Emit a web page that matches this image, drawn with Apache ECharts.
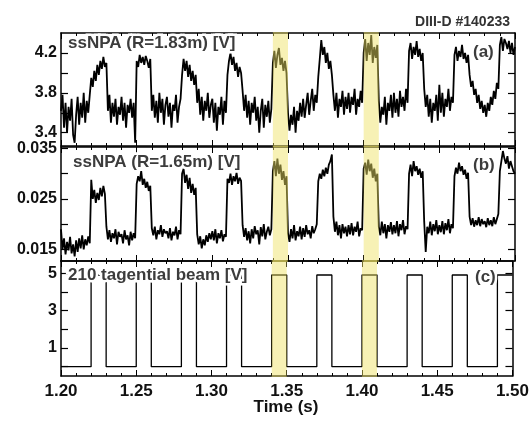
<!DOCTYPE html>
<html><head><meta charset="utf-8">
<script src="https://cdn.jsdelivr.net/npm/echarts@6/dist/echarts.min.js"></script>
<style>html,body{margin:0;padding:0;background:#fff}#c{width:532px;height:422px}</style>
</head><body><div id="c"></div>
<script>
// time sampling of the NPA traces (s)
const tStart = 1.200, tStep = 0.001;
// ssNPA R=1.83m [V], one value per ms from 1.200 to 1.500
const npaA = [
3.62,3.78,3.45,3.70,3.40,3.66,3.52,3.74,3.38,3.30,
3.58,3.76,3.48,3.70,3.55,3.80,3.50,3.72,3.60,3.78,
3.95,3.86,4.02,3.92,4.08,3.98,4.12,4.04,4.16,4.06,
4.10,3.62,3.78,3.50,3.70,3.56,3.74,3.48,3.66,3.58,
3.76,3.52,3.70,3.45,3.68,3.60,3.74,3.55,3.70,3.30,
4.12,4.06,4.18,4.10,4.16,4.08,4.17,4.12,4.05,4.14,
3.62,3.78,3.55,3.72,3.50,3.80,3.60,3.74,3.48,3.68,
3.76,3.56,3.70,3.45,3.68,3.62,3.78,3.50,3.66,3.74,
3.98,4.14,4.02,4.12,3.96,4.08,3.92,4.02,3.88,3.98,
3.70,3.84,3.58,3.76,3.52,3.72,3.62,3.80,3.55,3.68,
3.74,3.50,3.70,3.42,3.66,3.58,3.76,3.48,3.72,3.60,
3.98,4.12,4.20,4.08,4.16,4.02,4.10,3.96,4.06,4.00,
3.82,3.62,3.78,3.55,3.72,3.48,3.70,3.60,3.76,3.52,
3.66,3.40,3.62,3.74,3.45,3.68,3.56,3.72,3.50,3.64,
4.10,4.22,4.05,4.18,4.25,4.08,4.15,4.02,4.12,4.00,
3.60,3.42,3.58,3.48,3.66,3.40,3.62,3.52,3.70,3.56,
3.74,3.55,3.68,3.80,3.58,3.72,3.84,3.62,3.78,3.70,
3.96,4.14,4.33,4.18,4.26,4.10,4.20,4.04,4.12,3.98,
3.78,3.62,3.80,3.55,3.74,3.66,3.82,3.58,3.76,3.64,
3.80,3.60,3.76,3.68,3.84,3.58,3.74,3.66,3.82,3.70,
4.20,4.34,4.12,4.30,4.18,4.38,4.10,4.26,4.15,4.28,
3.72,3.50,3.66,3.58,3.76,3.48,3.70,3.62,3.78,3.55,
3.80,3.60,3.74,3.56,3.82,3.66,3.76,3.62,3.84,3.70,
4.22,4.30,4.14,4.26,4.18,4.32,4.16,4.24,4.12,4.20,
3.84,3.66,3.78,3.56,3.74,3.50,3.70,3.62,3.78,3.52,
3.88,3.60,3.80,3.56,3.74,3.66,3.84,3.62,3.76,3.70,
4.18,4.26,4.12,4.22,4.16,4.28,4.14,4.20,4.10,4.18,
3.98,3.86,3.92,3.78,3.84,3.70,3.78,3.64,3.72,3.60,
3.68,3.56,3.70,3.62,3.76,3.68,3.82,3.74,3.90,3.84,
4.28,4.36,4.22,4.34,4.30,4.24,4.32,4.20,4.30,4.18,4.26
];
// ssNPA R=1.65m [V]
const npaB = [
0.0190,0.0150,0.0172,0.0140,0.0165,0.0148,0.0175,0.0142,0.0160,0.0136,
0.0168,0.0145,0.0172,0.0152,0.0178,0.0150,0.0170,0.0158,0.0176,0.0162,
0.0288,0.0250,0.0268,0.0242,0.0262,0.0248,0.0272,0.0255,0.0276,0.0260,
0.0195,0.0170,0.0188,0.0165,0.0182,0.0172,0.0190,0.0160,0.0185,0.0175,
0.0180,0.0162,0.0188,0.0170,0.0178,0.0158,0.0185,0.0168,0.0182,0.0172,
0.0280,0.0295,0.0285,0.0305,0.0278,0.0290,0.0272,0.0284,0.0266,0.0276,
0.0192,0.0178,0.0195,0.0170,0.0188,0.0180,0.0198,0.0175,0.0190,0.0182,
0.0186,0.0172,0.0192,0.0168,0.0185,0.0178,0.0195,0.0170,0.0188,0.0180,
0.0300,0.0310,0.0282,0.0298,0.0270,0.0292,0.0262,0.0280,0.0258,0.0272,
0.0180,0.0160,0.0176,0.0152,0.0170,0.0158,0.0178,0.0165,0.0182,0.0170,
0.0186,0.0168,0.0190,0.0162,0.0182,0.0172,0.0188,0.0166,0.0180,0.0175,
0.0290,0.0282,0.0300,0.0278,0.0295,0.0285,0.0302,0.0280,0.0292,0.0286,
0.0198,0.0175,0.0192,0.0168,0.0186,0.0162,0.0190,0.0172,0.0196,0.0180,
0.0188,0.0160,0.0194,0.0176,0.0200,0.0170,0.0185,0.0195,0.0178,0.0190,
0.0305,0.0325,0.0295,0.0330,0.0300,0.0318,0.0288,0.0305,0.0278,0.0295,
0.0182,0.0165,0.0190,0.0172,0.0198,0.0168,0.0186,0.0176,0.0195,0.0170,
0.0192,0.0175,0.0198,0.0180,0.0188,0.0172,0.0196,0.0182,0.0190,0.0200,
0.0285,0.0300,0.0290,0.0308,0.0295,0.0312,0.0300,0.0318,0.0325,0.0338,
0.0215,0.0185,0.0205,0.0178,0.0198,0.0172,0.0200,0.0182,0.0195,0.0176,
0.0198,0.0180,0.0202,0.0178,0.0195,0.0185,0.0205,0.0176,0.0192,0.0188,
0.0310,0.0322,0.0298,0.0328,0.0305,0.0320,0.0292,0.0310,0.0285,0.0300,
0.0195,0.0178,0.0205,0.0182,0.0200,0.0172,0.0198,0.0185,0.0204,0.0180,
0.0198,0.0182,0.0206,0.0176,0.0200,0.0188,0.0208,0.0180,0.0196,0.0190,
0.0300,0.0318,0.0295,0.0325,0.0305,0.0315,0.0298,0.0310,0.0292,0.0305,
0.0205,0.0145,0.0195,0.0182,0.0205,0.0178,0.0200,0.0186,0.0208,0.0180,
0.0198,0.0184,0.0206,0.0180,0.0202,0.0188,0.0210,0.0182,0.0200,0.0192,
0.0295,0.0312,0.0300,0.0322,0.0305,0.0315,0.0298,0.0308,0.0290,0.0302,
0.0215,0.0198,0.0212,0.0195,0.0208,0.0198,0.0214,0.0196,0.0210,0.0200,
0.0206,0.0194,0.0212,0.0198,0.0208,0.0196,0.0214,0.0200,0.0210,0.0220,
0.0305,0.0325,0.0345,0.0330,0.0320,0.0335,0.0310,0.0325,0.0315,0.0305,0.0300
];
// 210 tangential beam [V]: on-times (s), pulse width, levels
const beamOn = [1.22,1.25,1.28,1.31,1.34,1.37,1.40,1.43,1.46,1.49];
const beamWidth = 0.01;
const beamHigh = 4.9, beamLow = 0.0;
const tEnd = 1.50;
// highlighted intervals
const bands = [[1.34,1.35],[1.40,1.41]];
// ticks / labels
const xMin = 1.20, xMax = 1.50, xInterval = 0.05;
const yRangeA = [3.267, 4.40], yTicksA = [3.4,3.6,3.8,4.0,4.2], yLabelsA = [3.4,3.8,4.2];
const yRangeB = [0.0127, 0.0353], yTicksB = [0.015,0.020,0.025,0.030,0.035], yLabelsB = [0.015,0.025,0.035];
const yRangeC = [-0.5, 5.65], yTicksC = [0,1,2,3,4,5], yLabelsC = [1,3,5];

const FONT = 'Liberation Sans, Arial, Helvetica, sans-serif';
const toPairs = arr => arr.map((v,i)=>[+(tStart + i*tStep).toFixed(4), v]);
const beamData = [[xMin, beamLow]];
beamOn.forEach(t0=>{
  const t1 = +(t0+beamWidth).toFixed(4);
  beamData.push([t0,beamLow],[t0,beamHigh]);
  if (t1 < tEnd) beamData.push([t1,beamHigh],[t1,beamLow]); else beamData.push([tEnd,beamHigh]);
});

const grids = [
  {left:61, right:17, top:33, height:113},
  {left:61, right:17, top:147, height:114},
  {left:61, right:17, top:261, height:115}
];
const ranges = [yRangeA, yRangeB, yRangeC];
const yTicks = [yTicksA, yTicksB, yTicksC];
const yLabels = [yLabelsA, yLabelsB, yLabelsC];
const yFmt = [v=>v.toFixed(1), v=>v.toFixed(3), v=>String(v)];

const axLine = {show:true, onZero:false, lineStyle:{color:'#000', width:1.5}};
const xAxis = [], yAxis = [];
grids.forEach((g,i)=>{
  ['bottom','top'].forEach(pos=>{
    xAxis.push({type:'value', gridIndex:i, position:pos, min:xMin, max:xMax, interval:xInterval,
      axisLine:axLine, splitLine:{show:false},
      axisTick:{show:true, inside:true, length:6, lineStyle:{color:'#000', width:1}},
      minorTick:{show:true, splitNumber:5, length:3, lineStyle:{color:'#000', width:1}},
      axisLabel:{show: pos==='bottom' && i===2, margin:7, color:'#111', fontFamily:FONT, fontWeight:'bold', fontSize:17,
        formatter:v=>v.toFixed(2)}});
  });
  ['left','right'].forEach(pos=>{
    yAxis.push({type:'value', gridIndex:i, position:pos, min:ranges[i][0], max:ranges[i][1],
      axisLine:axLine, splitLine:{show:false},
      axisTick:{show:true, inside:true, length:7, customValues:yTicks[i], lineStyle:{color:'#000', width:1.2}},
      axisLabel:{show: pos==='left', customValues:yLabels[i], margin:4, color:'#111', fontFamily:FONT, fontWeight:'bold', fontSize:16,
        formatter:yFmt[i]}});
  });
});

const series = [];
[toPairs(npaA), toPairs(npaB), beamData].forEach((d,i)=>{
  series.push({type:'line', xAxisIndex:2*i, yAxisIndex:2*i, data:d, showSymbol:false, symbol:'none',
    lineStyle:{color:'#000', width:i===2?1.3:1.8, join:'bevel'}, z:2, animation:false, silent:true});
  series.push({type:'custom', xAxisIndex:2*i, yAxisIndex:2*i, data:bands, z:10, silent:true, animation:false,
    renderItem:(params, api)=>{
      const p0 = api.coord([api.value(0), ranges[i][0]]);
      const p1 = api.coord([api.value(1), ranges[i][0]]);
      const cs = params.coordSys;
      return {type:'rect', shape:{x:p0[0], y:cs.y-1, width:p1[0]-p0[0], height:cs.height+2},
        style:{fill:'rgba(238,226,100,0.48)'}};
    }});
});

const txt = (text, x, y, size, fill, align, halo) => ({type:'text', x, y, z:100, silent:true,
  style:{text, x:0, y:0, fill, font:`bold ${size}px ${FONT}`, textAlign:align, textVerticalAlign:'middle',
    stroke: halo ? '#fff' : null, lineWidth: halo ? 5 : 0}});

const chart = echarts.init(document.getElementById('c'), null, {renderer:'canvas'});
chart.setOption({
  animation:false,
  backgroundColor:'#fff',
  grid:grids,
  xAxis, yAxis, series,
  graphic:[
    txt('DIII-D #140233', 510, 22, 14, '#333', 'right', false),
    txt('ssNPA (R=1.83m) [V]', 68, 43, 17, '#3c3c3c', 'left', true),
    txt('ssNPA (R=1.65m) [V]', 73, 162, 17, '#3c3c3c', 'left', true),
    txt('210 tagential beam [V]', 68, 275, 17, '#3c3c3c', 'left', true),
    txt('(a)', 473, 52, 17, '#3c3c3c', 'left', true),
    txt('(b)', 473, 165, 17, '#3c3c3c', 'left', true),
    txt('(c)', 475, 277, 17, '#3c3c3c', 'left', true),
    txt('Time (s)', 286, 407, 17, '#111', 'center', false)
  ]
});
</script></body></html>
